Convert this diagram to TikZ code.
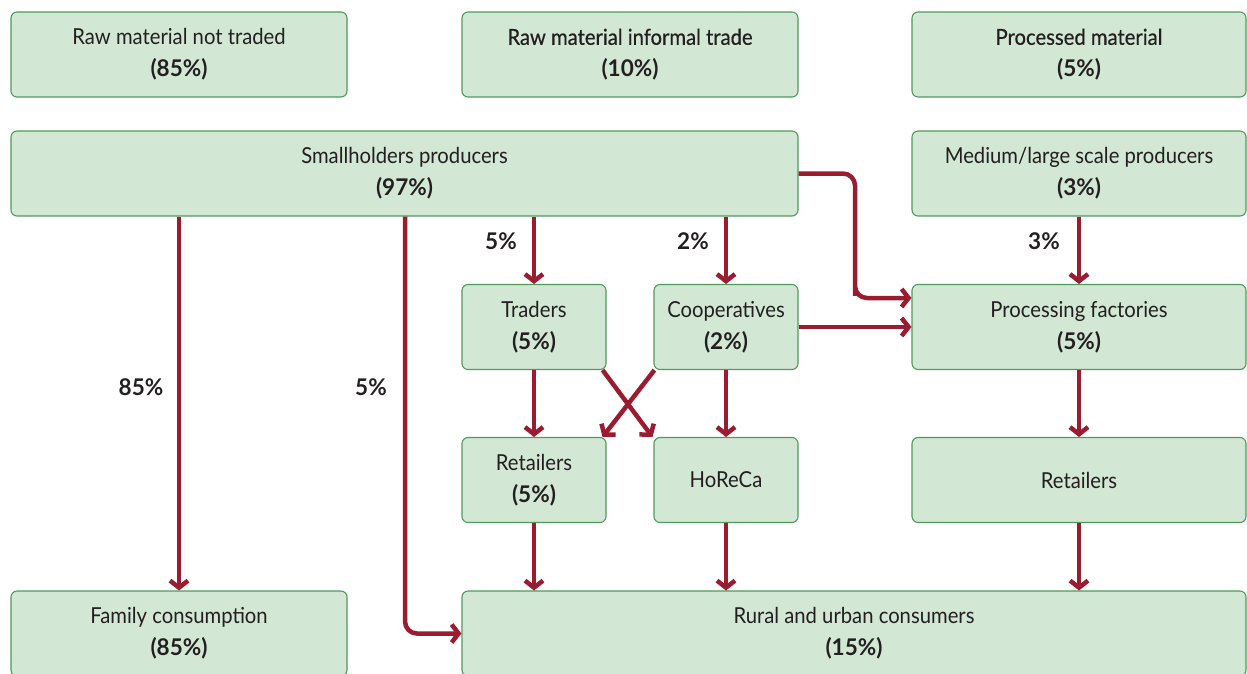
\documentclass[tikz,border=0pt]{standalone}
\usepackage{fontspec}
\setmainfont{Lato}[FakeStretch=0.92, BoldFeatures={FakeStretch=0.98}]
\newfontfamily\medfont[FakeBold=0.5, FakeStretch=0.92]{Lato}
\usetikzlibrary{arrows.meta}
\definecolor{boxfill}{HTML}{D2E8D4}
\definecolor{boxline}{HTML}{4E9A5C}
\definecolor{arr}{HTML}{9B1B30}
\definecolor{txt}{HTML}{231F20}
\newcommand{\pct}[1]{{\fontsize{23}{32}\selectfont\bfseries #1}}
\begin{document}
\begin{tikzpicture}[x=1pt,y=-1pt,
  box/.style={draw=boxline, fill=boxfill, line width=1.1pt, rounded corners=6pt,
    inner sep=0pt, text=txt, align=center, minimum height=85pt,
    font=\fontsize{22}{32}\selectfont},
  flow/.style={draw=arr, line width=4.5pt, rounded corners=12pt,
    -{Straight Barb[length=7pt,width=18pt]}},
  lab/.style={text=txt, font=\fontsize{23}{26}\selectfont\bfseries}]
\useasboundingbox (0,0) rectangle (1247,673);
\clip (0,0) rectangle (1247,673);

% row 1
\node[box, minimum width=336pt] (nt) at (179,54.5) {Raw material not traded\\\pct{(85\%)}};
\node[box, minimum width=336pt] (it) at (630,54.5) {{\medfont Raw material informal trade}\\\pct{(10\%)}};
\node[box, minimum width=334pt] (pm) at (1079,54.5) {{\medfont Processed material}\\\pct{(5\%)}};
% row 2
\node[box, minimum width=787pt] (sh) at (404.5,173.5) {Smallholders producers\\\pct{(97\%)}};
\node[box, minimum width=334pt] (ml) at (1079,173.5) {Medium/large scale producers\\\pct{(3\%)}};
% row 3
\node[box, minimum width=144pt] (tr) at (534,327) {Traders\\\pct{(5\%)}};
\node[box, minimum width=144pt] (co) at (726,327) {Cooperatives\\\pct{(2\%)}};
\node[box, minimum width=334pt] (pf) at (1079,327) {Processing factories\\\pct{(5\%)}};
% row 4
\node[box, minimum width=144pt] (re) at (534,480) {Retailers\\\pct{(5\%)}};
\node[box, minimum width=144pt] (ho) at (726,480) {HoReCa};
\node[box, minimum width=334pt] (r2) at (1079,480) {Retailers};
% row 5
\node[box, minimum width=336pt] (fc) at (179,633.5) {Family consumption\\\pct{(85\%)}};
\node[box, minimum width=784pt] (ru) at (854,633.5) {Rural and urban consumers\\\pct{(15\%)}};

\coordinate (c5) at (405,0);
\coordinate (cr) at (855,0);

% connectors
\draw[flow] (sh.south -| fc.north) -- (fc.north);
\draw[flow] (sh.south -| c5) |- (ru.west);
\draw[flow] (sh.south -| tr.north) -- (tr.north);
\draw[flow] (sh.south -| co.north) -- (co.north);
\draw[flow] (sh.east) -| (cr |- pf.north) |- ([yshift=29pt]pf.west);
\draw[flow] (co.east) -- (pf.west);
\draw[flow] (ml.south) -- (pf.north);
\draw[flow] (tr.south) -- (re.north);
\draw[flow] (co.south) -- (ho.north);
\draw[flow] ([xshift=-4pt]tr.south east) -- ([xshift=-1pt]ho.north west);
\draw[flow] ([xshift=1pt]co.south west) -- ([xshift=-4pt]re.north east);
\draw[flow] (pf.south) -- (r2.north);
\draw[flow] (re.south) -- (re.south |- ru.north);
\draw[flow] (ho.south) -- (ho.south |- ru.north);
\draw[flow] (r2.south) -- (r2.south |- ru.north);

% labels
\node[lab] (l85) at (141,387) {85\%};
\node[lab] (l5a) at (371,387) {5\%};
\node[lab] (l5b) at (501,241) {5\%};
\node[lab] (l2) at (693,241) {2\%};
\node[lab] (l3) at (1044,241) {3\%};
\end{tikzpicture}
\end{document}
